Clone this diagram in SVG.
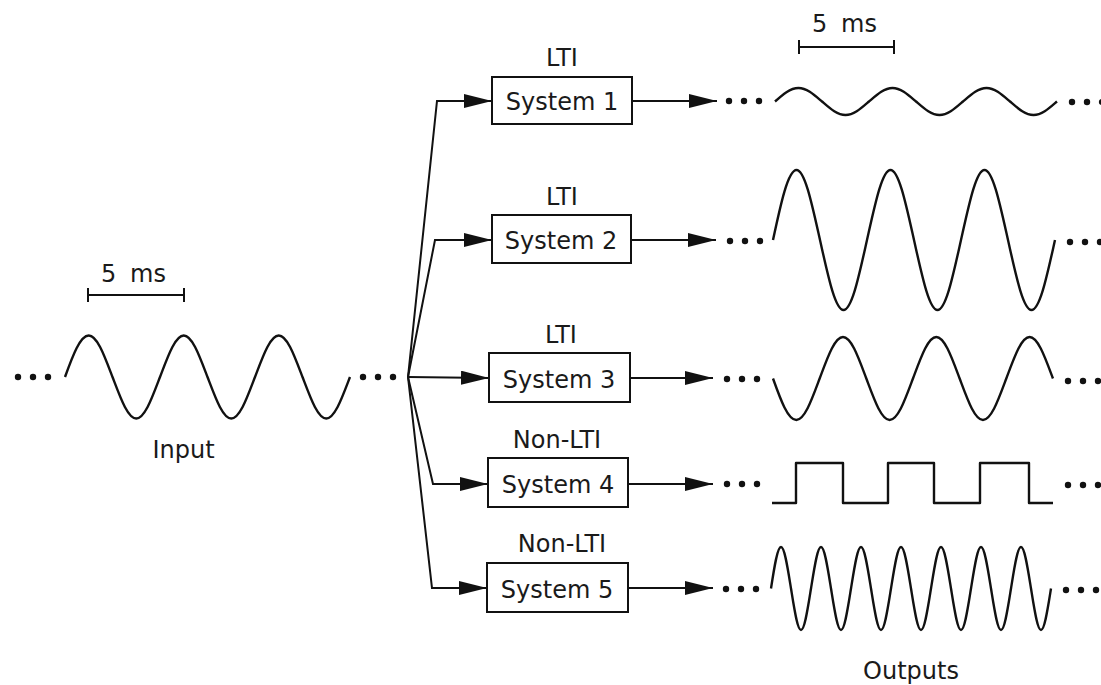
<svg xmlns="http://www.w3.org/2000/svg" width="1101" height="685" viewBox="0 0 1101 685">
<style>
  text { font-family: "DejaVu Sans", "Liberation Sans", sans-serif; font-size: 24px; fill: #1a1a1a; text-anchor: middle; }
  .box { fill: #fff; stroke: #111; stroke-width: 2; }
  .wire { fill: none; stroke: #111; stroke-width: 2; }
  .wave { fill: none; stroke: #111; stroke-width: 2.4; stroke-linejoin: round; }
  .dot { fill: #111; }
</style>
<defs>
  <marker id="ah" markerUnits="userSpaceOnUse" markerWidth="30" markerHeight="16" refX="28" refY="7" orient="auto">
    <path d="M0,0 L28,7 L0,14 Z" fill="#111"/>
  </marker>
  <g id="dots"><circle cx="0" cy="0" r="3.2"/><circle cx="15" cy="0" r="3.2"/><circle cx="30" cy="0" r="3.2"/></g>
</defs>

<g id="input">
  <use href="#dots" x="18" y="377" class="dot"/>
  <path class="wave" d="M65,377 c7.745,-21.26 15.155,-41.5 23.75,-41.5 s16.005,21.26 23.75,41.5 s15.155,41.5 23.75,41.5 s16.005,-21.26 23.75,-41.5 s15.155,-41.5 23.75,-41.5 s16.005,21.26 23.75,41.5 s15.155,41.5 23.75,41.5 s16.005,-21.26 23.75,-41.5 s15.155,-41.5 23.75,-41.5 s16.005,21.26 23.75,41.5 s15.155,41.5 23.75,41.5 s16.005,-21.26 23.75,-41.5"/>
  <use href="#dots" x="363" y="377" class="dot"/>
  <path class="wire" d="M88,295 H184 M88,288 V302 M184,288 V302"/>
  <text x="133.5" y="282" word-spacing="6">5 ms</text>
  <text x="183.5" y="458">Input</text>
</g>

<g id="connectors">
  <path class="wire" marker-end="url(#ah)" d="M408,377 L437,101 L492,101"/>
  <path class="wire" marker-end="url(#ah)" d="M408,377 L435,240 L492,240"/>
  <path class="wire" marker-end="url(#ah)" d="M408,377 L489,378"/>
  <path class="wire" marker-end="url(#ah)" d="M408,377 L433,484 L488,484"/>
  <path class="wire" marker-end="url(#ah)" d="M408,377 L432,588 L487,588"/>
  <path class="wire" marker-end="url(#ah)" d="M633,101 L717,101"/>
  <path class="wire" marker-end="url(#ah)" d="M632,240 L716,240"/>
  <path class="wire" marker-end="url(#ah)" d="M630,378 L713,378"/>
  <path class="wire" marker-end="url(#ah)" d="M628,484 L713,484"/>
  <path class="wire" marker-end="url(#ah)" d="M628,588 L713,588"/>
</g>

<g id="system1">
  <text x="562" y="66">LTI</text>
  <rect class="box" x="492" y="77" width="140" height="47"/>
  <text x="562" y="110">System 1</text>
</g>
<g id="system2">
  <text x="562" y="205">LTI</text>
  <rect class="box" x="492" y="215" width="139" height="48"/>
  <text x="561" y="249">System 2</text>
</g>
<g id="system3">
  <text x="561" y="343">LTI</text>
  <rect class="box" x="489" y="353" width="141" height="49"/>
  <text x="559" y="388">System 3</text>
</g>
<g id="system4">
  <text x="557" y="448">Non-LTI</text>
  <rect class="box" x="488" y="458" width="140" height="49"/>
  <text x="558" y="493">System 4</text>
</g>
<g id="system5">
  <text x="562" y="552">Non-LTI</text>
  <rect class="box" x="487" y="563" width="141" height="49"/>
  <text x="557" y="598">System 5</text>
</g>

<g id="output1">
  <use href="#dots" x="729" y="101" class="dot"/>
  <path class="wave" d="M775,101.5 c7.663,-6.916 14.995,-13.5 23.5,-13.5 s15.837,6.916 23.5,13.5 s14.995,13.5 23.5,13.5 s15.837,-6.916 23.5,-13.5 s14.995,-13.5 23.5,-13.5 s15.837,6.916 23.5,13.5 s14.995,13.5 23.5,13.5 s15.837,-6.916 23.5,-13.5 s14.995,-13.5 23.5,-13.5 s15.837,6.916 23.5,13.5 s14.995,13.5 23.5,13.5 s15.837,-6.916 23.5,-13.5"/>
  <use href="#dots" x="1072" y="102" class="dot"/>
  <path class="wire" d="M799,47 H894 M799,40 V54 M894,40 V54"/>
  <text x="844.5" y="32" word-spacing="6">5 ms</text>
</g>

<g id="output2">
  <use href="#dots" x="730" y="241" class="dot"/>
  <path class="wave" d="M773,240 c7.663,-35.86 14.995,-70 23.5,-70 s15.837,35.86 23.5,70 s14.995,70 23.5,70 s15.837,-35.86 23.5,-70 s14.995,-70 23.5,-70 s15.837,35.86 23.5,70 s14.995,70 23.5,70 s15.837,-35.86 23.5,-70 s14.995,-70 23.5,-70 s15.837,35.86 23.5,70 s14.995,70 23.5,70 s15.837,-35.86 23.5,-70"/>
  <use href="#dots" x="1070" y="242" class="dot"/>
</g>

<g id="output3">
  <use href="#dots" x="727" y="379" class="dot"/>
  <path class="wave" d="M773,378.5 c7.609,21.26 14.889,41.5 23.33,41.5 s15.724,-21.26 23.33,-41.5 s14.889,-41.5 23.33,-41.5 s15.724,21.26 23.33,41.5 s14.889,41.5 23.33,41.5 s15.724,-21.26 23.33,-41.5 s14.889,-41.5 23.33,-41.5 s15.724,21.26 23.33,41.5 s14.889,41.5 23.33,41.5 s15.724,-21.26 23.33,-41.5 s14.889,-41.5 23.33,-41.5 s15.724,21.26 23.33,41.5"/>
  <use href="#dots" x="1068" y="381" class="dot"/>
</g>

<g id="output4">
  <use href="#dots" x="727" y="484" class="dot"/>
  <path class="wave" stroke-linejoin="miter" d="M772,503 H796 V463 H843 V503 H888 V463 H934 V503 H980 V463 H1029 V503 H1053"/>
  <use href="#dots" x="1068" y="485" class="dot"/>
</g>

<g id="output5">
  <use href="#dots" x="726" y="589" class="dot"/>
  <path class="wave" d="M771,588.5 c3.261,-21.26 6.381,-41.5 10,-41.5 s6.739,21.26 10,41.5 s6.381,41.5 10,41.5 s6.739,-21.26 10,-41.5 s6.381,-41.5 10,-41.5 s6.739,21.26 10,41.5 s6.381,41.5 10,41.5 s6.739,-21.26 10,-41.5 s6.381,-41.5 10,-41.5 s6.739,21.26 10,41.5 s6.381,41.5 10,41.5 s6.739,-21.26 10,-41.5 s6.381,-41.5 10,-41.5 s6.739,21.26 10,41.5 s6.381,41.5 10,41.5 s6.739,-21.26 10,-41.5 s6.381,-41.5 10,-41.5 s6.739,21.26 10,41.5 s6.381,41.5 10,41.5 s6.739,-21.26 10,-41.5 s6.381,-41.5 10,-41.5 s6.739,21.26 10,41.5 s6.381,41.5 10,41.5 s6.739,-21.26 10,-41.5 s6.381,-41.5 10,-41.5 s6.739,21.26 10,41.5 s6.381,41.5 10,41.5 s6.739,-21.26 10,-41.5"/>
  <use href="#dots" x="1066" y="590" class="dot"/>
  <text x="911" y="679">Outputs</text>
</g>
</svg>
